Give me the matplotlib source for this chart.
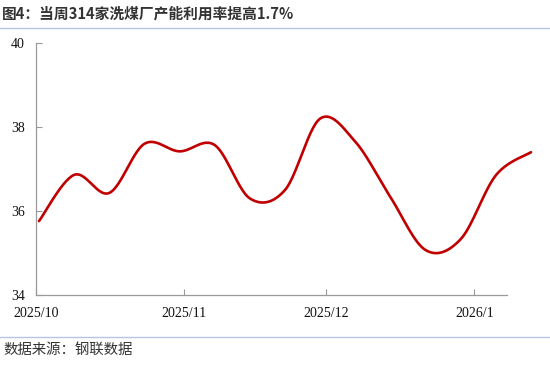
import numpy as np
import matplotlib.pyplot as plt
from matplotlib.lines import Line2D

plt.rcParams['font.family'] = ['Liberation Serif', 'Noto Sans CJK SC']

# weekly capacity utilisation (%) of 314 coal washing plants
week = np.arange(15)
rate = [35.76, 36.86, 36.43, 37.60, 37.42, 37.57, 36.30, 36.50,
        38.20, 37.65, 36.33, 35.07, 35.33, 36.85, 37.40]

tick_pos = [-0.085, 4.12, 8.18, 12.39]
tick_labels = ['2025/10', '2025/11', '2025/12', '2026/1']
y_ticks = [34, 36, 38, 40]


# smoothed line like the spreadsheet one (Catmull-Rom through the points)
def smooth(x, y, n=30):
    x = np.asarray(x, float)
    y = np.asarray(y, float)
    px = np.concatenate([[x[0]], x, [x[-1]]])
    py = np.concatenate([[y[0]], y, [y[-1]]])
    xs, ys = [], []
    t = np.linspace(0, 1, n)
    for i in range(1, len(px) - 2):
        p0, p1, p2, p3 = [np.array([px[j], py[j]]) for j in (i - 1, i, i + 1, i + 2)]
        c1 = p1 + (p2 - p0) / 6
        c2 = p2 - (p3 - p1) / 6
        pts = ((1 - t) ** 3)[:, None] * p1 + (3 * (1 - t) ** 2 * t)[:, None] * c1 \
            + (3 * (1 - t) * t ** 2)[:, None] * c2 + (t ** 3)[:, None] * p2
        xs.extend(pts[:, 0])
        ys.extend(pts[:, 1])
    return np.array(xs), np.array(ys)


fig = plt.figure(figsize=(5.5, 3.66), dpi=100)
ax = fig.add_axes([0.0655, 0.194, 0.8565, 0.6885])

sx, sy = smooth(week, rate)
ax.plot(sx, sy, color='#c00000', lw=1.9, clip_on=False, solid_capstyle='round')

ax.set_xlim(-0.085, 13.32)
ax.set_ylim(34, 40)
ax.set_xticks(tick_pos)
ax.set_xticklabels(tick_labels)
ax.set_yticks(y_ticks)
ax.tick_params(direction='in', length=4, width=0.8, color='#999999',
               labelsize=10, labelcolor='#111111')
ax.tick_params(axis='x', pad=9)
ax.tick_params(axis='y', pad=8)
for s in ['top', 'right']:
    ax.spines[s].set_visible(False)
for s in ['left', 'bottom']:
    ax.spines[s].set_color('#999999')
    ax.spines[s].set_linewidth(0.9)

fig.text(0.004, 0.962, '图4：当周314家洗煤厂产能利用率提高1.7%', fontsize=10.6,
         family=['Noto Sans CJK SC'], fontweight='bold', color='#333333', va='center')
fig.text(0.006, 0.044, '数据来源：钢联数据', fontsize=10.4,
         family=['Noto Sans CJK SC'], color='#333333', va='center')
fig.add_artist(Line2D([0, 1], [0.923, 0.923], color='#b4c6e4', lw=1))
fig.add_artist(Line2D([0, 1], [0.079, 0.079], color='#b4c6e4', lw=1))

fig.savefig('out.png', dpi=100)
